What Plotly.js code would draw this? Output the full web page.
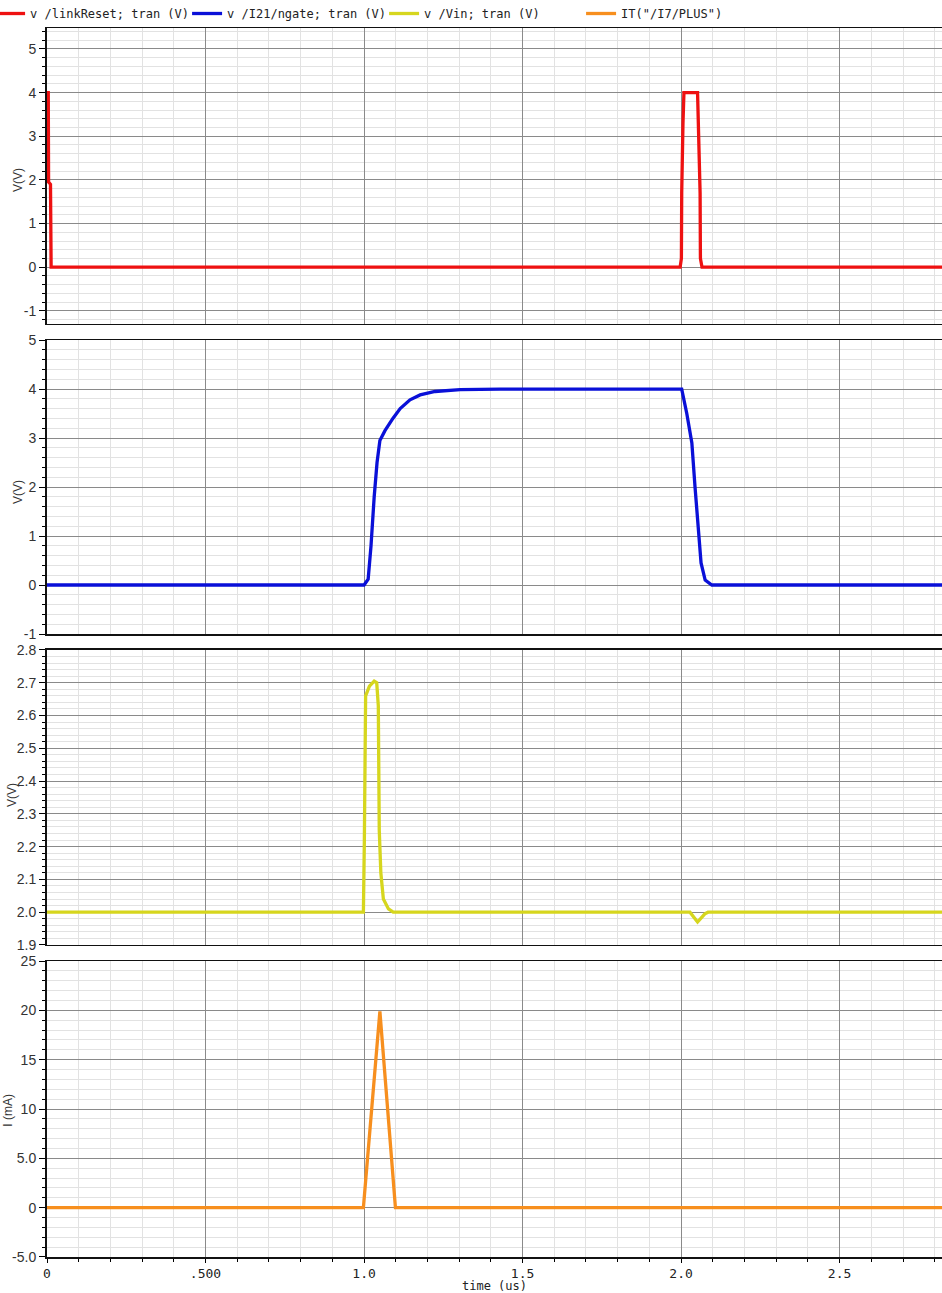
<!DOCTYPE html>
<html>
<head>
<meta charset="utf-8">
<script src="https://cdn.plot.ly/plotly-3.0.1.min.js"></script>
<style>html,body{margin:0;padding:0;background:#fff;}#chart{width:942px;height:1293px;}</style>
</head>
<body>
<div id="chart"></div>
<script>
// time in us
const seriesNames = ['v /linkReset; tran (V)', 'v /I21/ngate; tran (V)', 'v /Vin; tran (V)', 'IT("/I7/PLUS")'];
const seriesColors = ['#ee1111', '#0a10d8', '#d6d61e', '#f78f1e'];

const linkResetT = [0, 0.004, 0.005, 0.011, 0.013, 1.997, 2.001, 2.002, 2.006, 2.009, 2.052, 2.054, 2.060, 2.061, 2.066, 2.823];
const linkResetV = [4.0, 4.0, 1.95, 1.9, 0.0, 0.0, 0.2, 1.7, 3.3, 4.0, 4.0, 3.3, 1.7, 0.2, 0.0, 0.0];

const ngateT = [0, 1.000, 1.013, 1.022, 1.032, 1.041, 1.050, 1.066, 1.091, 1.114, 1.145, 1.177, 1.224, 1.303, 1.43, 2.002, 2.018, 2.034, 2.044, 2.055, 2.063, 2.076, 2.097, 2.823];
const ngateV = [0, 0.0, 0.12, 0.8, 1.8, 2.5, 2.95, 3.15, 3.4, 3.6, 3.78, 3.88, 3.95, 3.99, 4.0, 4.0, 3.5, 2.9, 2.0, 1.06, 0.45, 0.1, 0.0, 0.0];

const vinT = [0, 0.998, 1.001, 1.005, 1.017, 1.032, 1.040, 1.045, 1.048, 1.053, 1.061, 1.077, 1.092, 2.000, 2.028, 2.052, 2.075, 2.085, 2.823];
const vinV = [2.0, 2.0, 2.22, 2.66, 2.69, 2.705, 2.70, 2.63, 2.25, 2.12, 2.04, 2.01, 2.0, 2.0, 2.0, 1.97, 1.995, 2.0, 2.0];

const plusT = [0, 0.998, 1.050, 1.099, 2.823];
const plusI = [0, 0, 19.9, 0, 0];

const xTickVals = [0, 0.5, 1.0, 1.5, 2.0, 2.5];
const xTickText = ['0', '.500', '1.0', '1.5', '2.0', '2.5'];
const y1TickVals = [-1, 0, 1, 2, 3, 4, 5];
const y1TickText = ['-1', '0', '1', '2', '3', '4', '5'];
const y3TickVals = [1.9, 2.0, 2.1, 2.2, 2.3, 2.4, 2.5, 2.6, 2.7, 2.8];
const y3TickText = ['1.9', '2.0', '2.1', '2.2', '2.3', '2.4', '2.5', '2.6', '2.7', '2.8'];
const y4TickVals = [-5, 0, 5, 10, 15, 20, 25];
const y4TickText = ['-5.0', '0', '5.0', '10', '15', '20', '25'];

const xs = [linkResetT, ngateT, vinT, plusT];
const ys = [linkResetV, ngateV, vinV, plusI];

const traces = xs.map((x, i) => ({
  type: 'scatter', mode: 'lines', x: x, y: ys[i],
  name: seriesNames[i],
  line: {color: seriesColors[i], width: 3.3},
  xaxis: i === 0 ? 'x' : 'x' + (i + 1),
  yaxis: i === 0 ? 'y' : 'y' + (i + 1)
}));

const monoFont = 'DejaVu Sans Mono, monospace';
const sansFont = 'Liberation Sans, Arial, sans-serif';
const majorGrid = '#8a8a8a';
const minorGrid = '#e2e2e2';

function xAxis(bottom) {
  const a = {
    range: [0, 2.823], domain: [0, 1], automargin: false,
    tickvals: xTickVals, ticktext: xTickText,
    showgrid: true, gridcolor: majorGrid, gridwidth: 1,
    minor: {dtick: 0.1, tick0: 0, showgrid: true, gridcolor: minorGrid, gridwidth: 1,
            ticks: bottom ? 'outside' : '', ticklen: 3, tickcolor: '#000'},
    zeroline: false, showline: true, linecolor: '#111', linewidth: 1.5, mirror: true,
    showticklabels: bottom, ticks: bottom ? 'outside' : '', ticklen: 4, tickcolor: '#000',
    tickfont: {family: monoFont, size: 13, color: '#222'}
  };
  if (bottom) {
    a.title = {text: 'time (us)', font: {family: monoFont, size: 12, color: '#222'}, standoff: 0};
  }
  return a;
}

function yAxis(domain, range, tv, tt, minorDtick, anchor) {
  return {
    domain: domain, range: range, anchor: anchor, automargin: false,
    tickvals: tv, ticktext: tt,
    showgrid: true, gridcolor: majorGrid, gridwidth: 1,
    minor: {dtick: minorDtick, tick0: 0, showgrid: true, gridcolor: minorGrid, gridwidth: 1,
            ticks: 'outside', ticklen: 3, tickcolor: '#000'},
    zeroline: false, showline: true, linecolor: '#111', linewidth: 2,
    ticks: 'outside', ticklen: 6, tickcolor: '#000',
    tickfont: {family: sansFont, size: 14, color: '#333'}
  };
}

const ytitleFont = {family: sansFont, size: 12, color: '#333'};

const layout = {
  width: 942, height: 1293,
  margin: {l: 47, r: 0, t: 28, b: 36, autoexpand: false},
  paper_bgcolor: '#fff', plot_bgcolor: '#fff',
  showlegend: true,
  legend: {
    orientation: 'h', xref: 'paper', yref: 'paper',
    x: -0.0636, y: 1.0, xanchor: 'left', yanchor: 'bottom',
    entrywidth: 152, entrywidthmode: 'pixels', itemwidth: 30,
    font: {family: monoFont, size: 12, color: '#222'},
    bgcolor: 'rgba(0,0,0,0)', borderwidth: 0
  },
  xaxis: Object.assign(xAxis(false), {anchor: 'y'}),
  xaxis2: Object.assign(xAxis(false), {anchor: 'y2', matches: 'x'}),
  xaxis3: Object.assign(xAxis(false), {anchor: 'y3', matches: 'x'}),
  xaxis4: Object.assign(xAxis(true), {anchor: 'y4', matches: 'x'}),
  yaxis: yAxis([0.7592, 1.0], [-1.3, 5.48], y1TickVals, y1TickText, 0.2, 'x'),
  yaxis2: yAxis([0.5069, 0.7461], [-1, 5], y1TickVals, y1TickText, 0.2, 'x2'),
  yaxis3: yAxis([0.2539, 0.4939], [1.9, 2.8], y3TickVals, y3TickText, 0.02, 'x3'),
  yaxis4: yAxis([0, 0.2408], [-5, 25], y4TickVals, y4TickText, 1, 'x4'),
  annotations: [
    {text: 'V(V)', xref: 'paper', yref: 'paper', x: -0.0324, y: 0.8763, xanchor: 'center', yanchor: 'middle', textangle: -90, showarrow: false, font: ytitleFont},
    {text: 'V(V)', xref: 'paper', yref: 'paper', x: -0.0324, y: 0.6225, xanchor: 'center', yanchor: 'middle', textangle: -90, showarrow: false, font: ytitleFont},
    {text: 'V(V)', xref: 'paper', yref: 'paper', x: -0.0391, y: 0.3759, xanchor: 'center', yanchor: 'middle', textangle: -90, showarrow: false, font: ytitleFont},
    {text: 'I (mA)', xref: 'paper', yref: 'paper', x: -0.0440, y: 0.1196, xanchor: 'center', yanchor: 'middle', textangle: -90, showarrow: false, font: ytitleFont}
  ]
};

Plotly.newPlot('chart', traces, layout, {displayModeBar: false, staticPlot: true});
</script>
</body>
</html>
